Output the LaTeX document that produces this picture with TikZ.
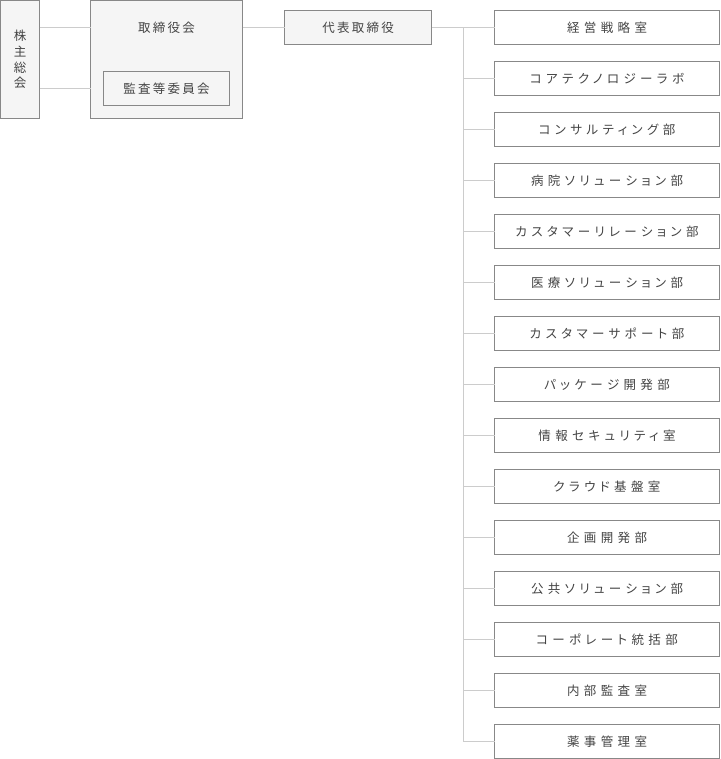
\documentclass[tikz,border=0pt]{standalone}
\usepackage{fontspec}
\setmainfont{Noto Sans CJK JP}
\newfontfamily\jpnarrow[LetterSpace=18]{Noto Sans CJK JP}
\newfontfamily\jpwide[LetterSpace=35,RawFeature={+palt}]{Noto Sans CJK JP}
\definecolor{boxline}{HTML}{888888}
\definecolor{boxfill}{HTML}{F5F5F5}
\definecolor{linkline}{HTML}{CCCCCC}
\definecolor{labeltext}{HTML}{444444}

\begin{document}
\begin{tikzpicture}[x=1pt,y=-1pt,
  box/.style={draw=boxline, line width=1pt, inner sep=0pt, outer sep=0pt,
    text=labeltext, anchor=north west},
  head/.style={box, fill=boxfill, font=\jpnarrow\fontsize{12.5}{15.7}\selectfont},
  dept/.style={box, fill=white, minimum width=225, minimum height=34,
    font=\jpwide\fontsize{12.5}{15}\selectfont},
  conn/.style={draw=linkline, line width=1pt}]
  \useasboundingbox (0,0) rectangle (720,759);

  \node[head, minimum width=39, minimum height=118, align=center] (kabu) at (0.5,0.5) {株\\主\\総\\会};
  \node[head, minimum width=152, minimum height=118] (board) at (90.5,0.5) {};
  \node[text=labeltext, inner sep=0pt, font=\jpnarrow\fontsize{12.5}{15}\selectfont] (boardlbl) at (166.5,27.5) {取締役会};
  \node[head, minimum width=126, minimum height=34] (audit) at (103.5,71.5) {監査等委員会};
  \node[head, minimum width=147, minimum height=34] (ceo) at (284.5,10.5) {代表取締役};

  \foreach \name [count=\i from 0] in {経営戦略室, コアテクノロジーラボ, コンサルティング部,
      病院ソリューション部, カスタマーリレーション部, 医療ソリューション部,
      カスタマーサポート部, パッケージ開発部, 情報セキュリティ室, クラウド基盤室,
      企画開発部, 公共ソリューション部, コーポレート統括部, 内部監査室, 薬事管理室}
    \node[dept] (d\i) at (494.5,{10.5+51*\i}) {\name};

  \draw[conn] (kabu.east |- boardlbl) -- (board.west |- boardlbl);
  \draw[conn] (kabu.east |- audit) -- (board.west |- audit);
  \draw[conn] (board.east |- ceo) -- (ceo.west);
  \draw[conn] (ceo.east) -- (d0.west);
  \coordinate (trunk) at (463.5,27.5);
  \draw[conn] (trunk) -- (trunk |- d14);
  \foreach \i in {1,...,14}
    \draw[conn] (trunk |- d\i) -- (d\i.west);
\end{tikzpicture}
\end{document}
